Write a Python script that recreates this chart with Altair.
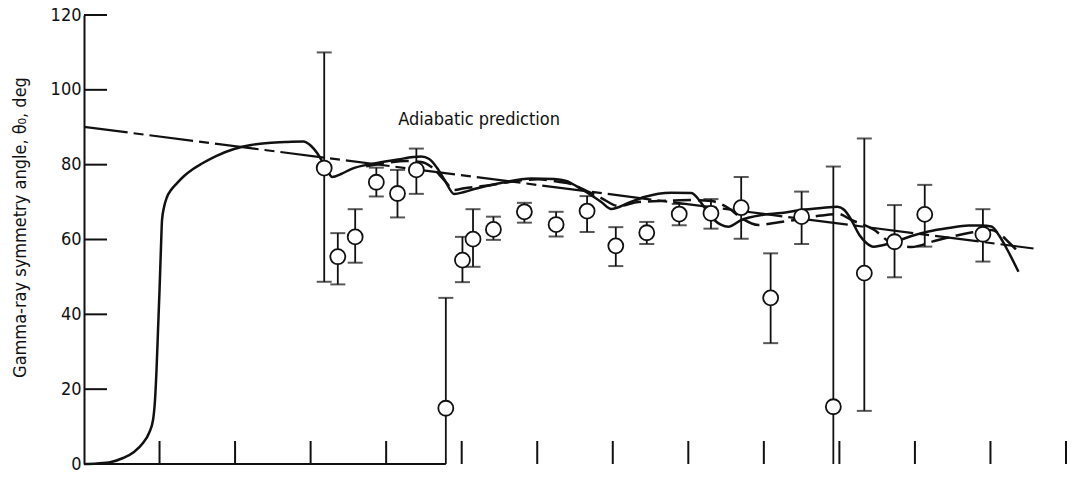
import altair as alt
import pandas as pd

FONT = "Liberation Sans Narrow, DejaVu Sans Condensed, Arial Narrow, sans-serif"
INK = "#111111"

# ---- measured data points (x in axis units, angle in deg) ----
pt_x  = [3.18, 3.36, 3.59, 3.87, 4.15, 4.40, 4.79, 5.01, 5.15, 5.42, 5.83, 6.25, 6.66,
         7.04, 7.45, 7.88, 8.30, 8.70, 9.09, 9.50, 9.92, 10.33, 10.73, 11.13, 11.90]
pt_y  = [79.1, 55.4, 60.7, 75.3, 72.3, 78.6, 14.9, 54.5, 60.1, 62.7, 67.4, 64.0, 67.6,
         58.3, 61.8, 66.8, 67.0, 68.5, 44.4, 66.1, 15.3, 51.0, 59.4, 66.7, 61.4]
pt_lo = [48.7, 48.0, 53.8, 71.5, 65.9, 72.2, 0.0, 48.6, 52.7, 59.9, 64.5, 60.8, 62.0,
         52.9, 58.8, 63.8, 62.9, 60.2, 32.3, 58.8, 0.0, 14.2, 49.9, 58.1, 54.1]
pt_hi = [110.0, 61.7, 68.1, 79.2, 78.6, 84.3, 44.4, 60.7, 68.1, 66.1, 69.8, 67.4, 71.6,
         63.3, 64.7, 69.5, 70.8, 76.7, 56.3, 72.8, 79.5, 87.0, 69.2, 74.6, 68.1]

# ---- solid curve ----
solid_x = [0, 0.172, 0.358, 0.517, 0.662, 0.781, 0.861, 0.914, 0.940, 0.960, 0.980, 1.000,
           1.020, 1.033, 1.060, 1.099, 1.152, 1.232, 1.325, 1.444, 1.550, 1.748, 1.987,
           2.212, 2.437, 2.675, 2.901, 3.007, 3.086, 3.166, 3.232, 3.285, 3.404, 3.536,
           3.841, 4.159, 4.358, 4.464, 4.570, 4.675, 4.781, 4.901, 5.033, 5.166, 5.483,
           5.921, 6.225, 6.384, 6.517, 6.649, 6.848, 6.980, 7.205, 7.417, 7.775, 8.040,
           8.172, 8.265, 8.344, 8.437, 8.530, 8.702, 8.967, 9.232, 9.497, 9.762, 9.974,
           10.066, 10.159, 10.265, 10.358, 10.450, 10.556, 10.728, 10.954, 11.179, 11.444,
           11.709, 11.881, 12.013, 12.119, 12.225, 12.371]
solid_y = [0, 0.13, 0.53, 1.60, 3.21, 5.61, 8.29, 11.76, 17.10, 25.12, 35.81, 46.50,
           58.52, 65.21, 68.68, 71.35, 73.22, 75.09, 76.96, 78.83, 80.17, 82.31, 84.18,
           85.25, 85.78, 86.05, 86.18, 84.98, 83.11, 80.44, 78.03, 76.70, 77.50, 78.83,
           80.30, 81.37, 82.04, 82.18, 81.51, 79.10, 75.63, 72.15, 72.69, 73.49, 74.96,
           76.30, 76.16, 75.63, 74.29, 72.69, 70.02, 68.15, 69.75, 71.35, 72.50, 72.42,
           69.75, 67.08, 65.21, 63.88, 63.42, 65.21, 66.54, 67.08, 67.88, 68.41, 68.76,
           67.88, 65.21, 61.20, 59.06, 58.07, 58.39, 59.33, 60.93, 62.13, 63.07, 63.74,
           63.74, 63.47, 60.93, 57.19, 51.39]

# ---- long-dashed curve ----
dash_x = [3.735, 4.000, 4.265, 4.464, 4.596, 4.768, 4.901, 5.033, 5.391, 5.748, 6.013,
          6.278, 6.450, 6.583, 6.848, 7.073, 7.338, 7.735, 8.040, 8.305, 8.530, 8.702,
          8.927, 9.139, 9.404, 9.762, 9.987, 10.159, 10.464, 10.689, 10.954, 11.258,
          11.709, 12.013, 12.106, 12.238, 12.371]
dash_y = [79.56, 80.44, 80.97, 80.71, 79.45, 75.90, 73.22, 73.68, 74.56, 75.71, 76.08,
          75.44, 74.83, 73.68, 71.09, 68.95, 70.02, 70.36, 70.55, 70.28, 68.41, 65.74,
          63.87, 64.40, 65.21, 66.41, 66.81, 65.21, 62.53, 59.06, 57.99, 59.59, 61.73,
          62.53, 61.73, 59.33, 56.65]

# ---- adiabatic prediction (straight line) ----
adia_x = [0.0, 12.57]
adia_y = [90.1, 57.6]
label_text = "Adiabatic prediction"
label_x, label_y = 4.16, 91.9

# ---- axes ----
y_tick_values = [20, 40, 60, 80, 100, 120]
y_label_values = [0, 20, 40, 60, 80, 100, 120]
x_tick_values = [1, 2, 3, 4, 5, 6, 7, 8, 9, 10, 11, 12, 13]
baseline_end = 4.79
X_MAX, Y_MAX = 13, 120
W, H = 982, 449
TICK = 23

xs = alt.Scale(domain=[0, X_MAX], nice=False, zero=False)
ys = alt.Scale(domain=[0, Y_MAX], nice=False, zero=False)

pts = pd.DataFrame({"x": pt_x, "y": pt_y, "lo": pt_lo, "hi": pt_hi})
caps = pd.DataFrame({"x": pt_x + pt_x, "y": pt_hi + pt_lo})
caps = caps[caps["y"] > 0]
solid = pd.DataFrame({"x": solid_x, "y": solid_y, "i": range(len(solid_x))})
dashed = pd.DataFrame({"x": dash_x, "y": dash_y, "i": range(len(dash_x))})
adia = pd.DataFrame({"x": adia_x, "y": adia_y})

yaxis = alt.Axis(values=y_label_values, ticks=False, grid=False, domain=True,
                 domainColor=INK, domainWidth=2, labelFont=FONT, labelFontSize=18,
                 labelColor=INK, labelPadding=3,
                 title="Gamma-ray symmetry angle, θ₀, deg", titleFont=FONT,
                 titleFontSize=18, titleFontWeight="normal", titleColor=INK,
                 titleAngle=270, titleX=-64, titleY=212, titleAlign="center",
                 titleBaseline="middle")


def X(f="x"):
    return alt.X(f"{f}:Q", scale=xs, axis=None)


def Y(f="y"):
    return alt.Y(f"{f}:Q", scale=ys, axis=yaxis)


base_line = alt.Chart(pd.DataFrame({"x": [0.0], "x2": [baseline_end], "y": [0.0]})).mark_rule(
    color=INK, strokeWidth=2).encode(x=X(), x2="x2:Q", y=Y())

xticks = alt.Chart(pd.DataFrame({"x": x_tick_values})).mark_rule(color=INK, strokeWidth=2).encode(
    x=X(), y=alt.value(H), y2=alt.value(H - TICK))

yticks = alt.Chart(pd.DataFrame({"y": y_tick_values})).mark_rule(color=INK, strokeWidth=2).encode(
    y=Y(), x=alt.value(0), x2=alt.value(TICK))

adia_line = alt.Chart(adia).mark_line(color=INK, strokeWidth=2.2,
                                      strokeDash=[44, 6, 10, 6]).encode(x=X(), y=Y())

dash_line = alt.Chart(dashed).mark_line(color=INK, strokeWidth=2.5, strokeDash=[18, 7],
                                        interpolate="monotone").encode(
    x=X(), y=Y(), order="i:Q")

solid_line = alt.Chart(solid).mark_line(color=INK, strokeWidth=2.5,
                                        interpolate="monotone").encode(
    x=X(), y=Y(), order="i:Q")

bars = alt.Chart(pts).mark_rule(color=INK, strokeWidth=1.8).encode(
    x=X(), y=Y("lo"), y2="hi:Q")

capm = alt.Chart(caps).mark_tick(color=INK, orient="horizontal", size=15, thickness=2).encode(
    x=X(), y=Y())

circles = alt.Chart(pts).mark_point(shape="circle", size=225, filled=False, fill="white",
                                    fillOpacity=1, stroke=INK, strokeWidth=1.8, opacity=1).encode(
    x=X(), y=Y())

label = alt.Chart(pd.DataFrame({"x": [label_x], "y": [label_y], "t": [label_text]})).mark_text(
    align="left", baseline="middle", font=FONT, fontSize=18, color=INK).encode(
    x=X(), y=Y(), text="t:N")

chart = alt.layer(base_line, xticks, yticks, adia_line, dash_line, solid_line, bars, capm,
                  circles, label).properties(
    width=W, height=H,
    padding={"left": 84, "top": 15, "right": 19, "bottom": 23},
    autosize=alt.AutoSizeParams(type="none"),
    background="white",
).configure_view(stroke=None)

chart.save("out.html", embed_options={"renderer": "svg", "actions": False})
